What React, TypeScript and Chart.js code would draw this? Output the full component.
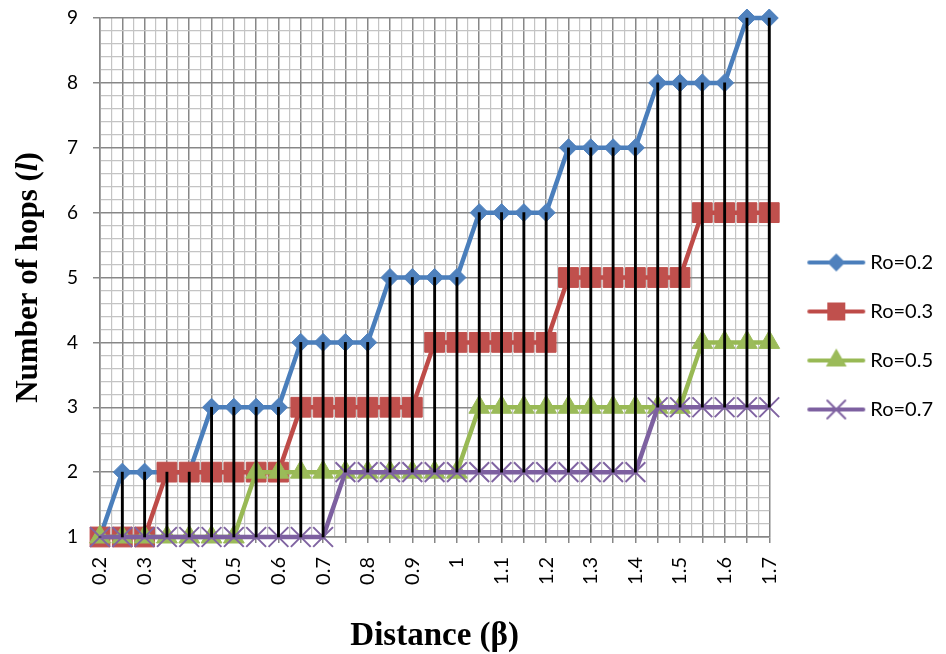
import React, { useEffect, useRef } from "react";
import { Chart, registerables } from "chart.js";

Chart.register(...registerables);

// ---- data ----
const categories = [
  0.2, 0.25, 0.3, 0.35, 0.4, 0.45, 0.5, 0.55, 0.6, 0.65, 0.7, 0.75, 0.8, 0.85, 0.9, 0.95,
  1.0, 1.05, 1.1, 1.15, 1.2, 1.25, 1.3, 1.35, 1.4, 1.45, 1.5, 1.55, 1.6, 1.65, 1.7,
];
const ro02 = [1, 2, 2, 2, 2, 3, 3, 3, 3, 4, 4, 4, 4, 5, 5, 5, 5, 6, 6, 6, 6, 7, 7, 7, 7, 8, 8, 8, 8, 9, 9];
const ro03 = [1, 1, 1, 2, 2, 2, 2, 2, 2, 3, 3, 3, 3, 3, 3, 4, 4, 4, 4, 4, 4, 5, 5, 5, 5, 5, 5, 6, 6, 6, 6];
const ro05 = [1, 1, 1, 1, 1, 1, 1, 2, 2, 2, 2, 2, 2, 2, 2, 2, 2, 3, 3, 3, 3, 3, 3, 3, 3, 3, 3, 4, 4, 4, 4];
const ro07 = [1, 1, 1, 1, 1, 1, 1, 1, 1, 1, 1, 2, 2, 2, 2, 2, 2, 2, 2, 2, 2, 2, 2, 2, 2, 3, 3, 3, 3, 3, 3];
const seriesLabels = ["Ro=0.2", "Ro=0.3", "Ro=0.5", "Ro=0.7"];
const xTitle = "Distance (\u03b2)";
const yTitleParts = ["Number of hops (", "l", ")"];

const COLORS = ["#4A7EBB", "#BE4B48", "#98B954", "#7D60A0"];
const FILLS = ["#4F81BD", "#C0504D", "#9BBB59", "#8064A2"];
const MAJOR = "#878787";
const MINOR = "#c4c4c4";

function makeLegendImage(kind: string, line: string, fill: string): HTMLCanvasElement {
  const c = document.createElement("canvas");
  c.width = 76;
  c.height = 28;
  const ctx = c.getContext("2d")!;
  const cy = 14;
  const cx = 45;
  ctx.strokeStyle = line;
  ctx.lineWidth = 4;
  ctx.lineCap = "round";
  ctx.beginPath();
  ctx.moveTo(18, cy);
  ctx.lineTo(72, cy);
  ctx.stroke();
  ctx.fillStyle = fill;
  ctx.strokeStyle = fill;
  ctx.lineWidth = 1;
  ctx.beginPath();
  if (kind === "diamond") {
    const r = 9;
    ctx.moveTo(cx, cy - r);
    ctx.lineTo(cx + r, cy);
    ctx.lineTo(cx, cy + r);
    ctx.lineTo(cx - r, cy);
    ctx.closePath();
    ctx.fill();
  } else if (kind === "square") {
    ctx.rect(cx - 9, cy - 9, 18, 18);
    ctx.fill();
  } else if (kind === "triangle") {
    const r = 12;
    ctx.moveTo(cx, cy - r);
    ctx.lineTo(cx + 0.866 * r, cy + 0.5 * r);
    ctx.lineTo(cx - 0.866 * r, cy + 0.5 * r);
    ctx.closePath();
    ctx.fill();
  } else {
    ctx.lineWidth = 2;
    ctx.moveTo(cx - 9, cy - 9);
    ctx.lineTo(cx + 9, cy + 9);
    ctx.moveTo(cx + 9, cy - 9);
    ctx.lineTo(cx - 9, cy + 9);
    ctx.stroke();
  }
  return c;
}

const isMultiple = (v: number, step: number) => {
  const q = v / step;
  return Math.abs(q - Math.round(q)) < 1e-6;
};

const axisTitles = {
  id: "axisTitles",
  afterDraw(chart: any) {
    const { ctx, chartArea } = chart;
    ctx.save();
    ctx.fillStyle = "#000";
    ctx.textBaseline = "alphabetic";
    ctx.font = 'bold 33px "Liberation Serif"';
    ctx.textAlign = "center";
    ctx.fillText(xTitle, (chartArea.left + chartArea.right) / 2, chart.height - 9);

    const fonts = [
      'bold 31px "Liberation Serif"',
      'italic bold 31px "Liberation Serif"',
      'bold 31px "Liberation Serif"',
    ];
    const widths = yTitleParts.map((t, i) => {
      ctx.font = fonts[i];
      return ctx.measureText(t).width;
    });
    const total = widths.reduce((a, b) => a + b, 0);
    ctx.translate(37, (chartArea.top + chartArea.bottom) / 2);
    ctx.rotate(-Math.PI / 2);
    ctx.textAlign = "left";
    let x = -total / 2;
    yTitleParts.forEach((t, i) => {
      ctx.font = fonts[i];
      ctx.fillText(t, x, 0);
      x += widths[i];
    });
    ctx.restore();
  },
};

export default function App() {
  const ref = useRef<HTMLCanvasElement | null>(null);

  useEffect(() => {
    if (!ref.current) return;
    const series = [ro02, ro03, ro05, ro07];
    const styles = ["rectRot", "rect", "triangle", "crossRot"];
    const radii = [9, 14, 12, 14];
    const legendKinds = ["diamond", "square", "triangle", "cross"];
    const legendImgs = legendKinds.map((k, i) => makeLegendImage(k, COLORS[i], FILLS[i]));

    const lineSets = series.map((s, i) => ({
      type: "line" as const,
      label: seriesLabels[i],
      data: categories.map((c, j) => ({ x: c, y: s[j] })),
      borderColor: COLORS[i],
      backgroundColor: FILLS[i],
      borderWidth: 4.5,
      pointStyle: styles[i],
      pointRadius: radii[i],
      pointBackgroundColor: FILLS[i],
      pointBorderColor: FILLS[i],
      pointBorderWidth: i === 3 ? 2 : 1,
      tension: 0,
      clip: false,
      order: 4 - i,
    }));

    const hiLo = {
      type: "bar" as const,
      label: "hilo",
      data: categories.map((c, j) => {
        const vals = series.map((s) => s[j]);
        return { x: c, y: [Math.min(...vals), Math.max(...vals)] };
      }),
      backgroundColor: "#000",
      borderWidth: 0,
      barThickness: 2.2,
      clip: false,
      order: 0,
    };

    const chart = new Chart(ref.current, {
      type: "line",
      data: { datasets: [...lineSets, hiLo] as any },
      plugins: [axisTitles],
      options: {
        animation: false,
        responsive: true,
        maintainAspectRatio: false,
        layout: { padding: { left: 0, top: 18, right: 3, bottom: 0 } },
        scales: {
          x: {
            type: "linear",
            min: 0.2,
            max: 1.7,
            offset: false,
            afterFit: (s: any) => {
              s.height = 117;
            },
            border: { color: MAJOR, width: 1.5 },
            grid: {
              offset: false,
              color: (c: any) => (isMultiple(c.tick.value, 0.05) ? MAJOR : MINOR),
              tickColor: (c: any) => (isMultiple(c.tick.value, 0.05) ? MAJOR : "rgba(0,0,0,0)"),
              lineWidth: (c: any) => (isMultiple(c.tick.value, 0.05) ? 1.5 : 1.2),
              tickLength: 6,
            },
            ticks: {
              stepSize: 0.025,
              autoSkip: false,
              minRotation: 90,
              maxRotation: 90,
              padding: 14,
              color: "#000",
              font: { family: "Lato", size: 20 },
              callback: (v: any) => (isMultiple(Number(v), 0.1) ? String(Math.round(Number(v) * 10) / 10) : ""),
            },
          },
          y: {
            type: "linear",
            min: 1,
            max: 9,
            afterFit: (s: any) => {
              s.width = 100;
            },
            border: { color: MAJOR, width: 1.5 },
            grid: {
              color: (c: any) => (isMultiple(c.tick.value, 1) ? MAJOR : MINOR),
              tickColor: (c: any) => (isMultiple(c.tick.value, 1) ? MAJOR : "rgba(0,0,0,0)"),
              lineWidth: (c: any) => (isMultiple(c.tick.value, 1) ? 1.5 : 1.2),
              tickLength: 7,
            },
            ticks: {
              stepSize: 0.2,
              autoSkip: false,
              padding: 15,
              color: "#000",
              font: { family: "Lato", size: 19, lineHeight: 0.2 },
              callback: (v: any) => (isMultiple(Number(v), 1) ? String(Math.round(Number(v))) : ""),
            },
          },
        },
        plugins: {
          tooltip: { enabled: false },
          legend: {
            display: true,
            position: "right",
            labels: {
              usePointStyle: true,
              pointStyleWidth: 62,
              padding: 29,
              color: "#000",
              font: { family: "Lato", size: 20 },
              generateLabels: () =>
                seriesLabels.map((t, i) => ({
                  text: t,
                  pointStyle: legendImgs[i] as any,
                  fillStyle: FILLS[i],
                  strokeStyle: COLORS[i],
                  lineWidth: 0,
                  hidden: false,
                  datasetIndex: i,
                  fontColor: "#000",
                })),
            },
          },
        },
      } as any,
    });
    return () => chart.destroy();
  }, []);

  return (
    <div style={{ position: "absolute", left: 0, top: 0, width: 946, height: 654, background: "#fff" }}>
      <canvas ref={ref} />
    </div>
  );
}
